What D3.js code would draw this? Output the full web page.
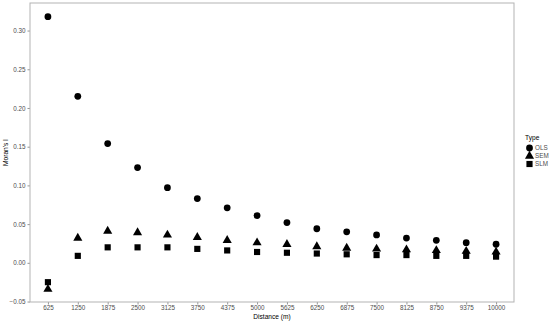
<!DOCTYPE html>
<html>
<head>
<meta charset="utf-8">
<script src="https://d3js.org/d3.v7.min.js"></script>
<style>
  body { margin: 0; background: #fff; }
  text { font-family: "Liberation Sans", Arial, sans-serif; }
</style>
</head>
<body>
<div id="chart"></div>
<script>
  const distances = ["625", "1250", "1875", "2500", "3125", "3750", "4375", "5000",
                     "5625", "6250", "6875", "7500", "8125", "8750", "9375", "10000"];
  const olsValues = [0.318, 0.215, 0.154, 0.123, 0.097, 0.083, 0.071, 0.061,
                     0.052, 0.044, 0.040, 0.036, 0.032, 0.029, 0.026, 0.024];
  const semValues = [-0.034, 0.032, 0.041, 0.039, 0.036, 0.033, 0.029, 0.026,
                     0.024, 0.021, 0.019, 0.018, 0.017, 0.016, 0.015, 0.014];
  const slmValues = [-0.025, 0.009, 0.020, 0.020, 0.020, 0.018, 0.016, 0.014,
                     0.013, 0.012, 0.011, 0.010, 0.010, 0.009, 0.009, 0.008];
  const types = ["OLS", "SEM", "SLM"];
  const yTicks = [-0.05, 0.00, 0.05, 0.10, 0.15, 0.20, 0.25, 0.30];

  const width = 550, height = 321;
  const margin = {left: 30, top: 3, bottom: 19};
  const panelRight = 514;

  const svg = d3.select("#chart").append("svg")
      .attr("width", width)
      .attr("height", height);

  const x = d3.scalePoint()
      .domain(distances)
      .range([margin.left, panelRight])
      .padding(0.6);

  const y = d3.scaleLinear()
      .domain([-0.0506, 0.3356])
      .range([height - margin.bottom, margin.top]);

  const symbols = {
    OLS: d3.symbol().type(d3.symbolCircle).size(36),
    SEM: d3.symbol().type(d3.symbolTriangle).size(36),
    SLM: d3.symbol().type(d3.symbolSquare).size(38)
  };

  const series = [
    {type: "OLS", values: olsValues},
    {type: "SEM", values: semValues},
    {type: "SLM", values: slmValues}
  ];

  // axes
  const xAxis = svg.append("g")
      .attr("transform", `translate(0,${height - margin.bottom})`)
      .call(d3.axisBottom(x).tickSize(2.5).tickPadding(1.5));
  const yAxis = svg.append("g")
      .attr("transform", `translate(${margin.left},0)`)
      .call(d3.axisLeft(y).tickValues(yTicks).tickFormat(d3.format(".2f")).tickSize(2.5).tickPadding(2));

  [xAxis, yAxis].forEach(g => {
    g.select(".domain").remove();
    g.selectAll(".tick line").attr("stroke", "#4d4d4d").attr("stroke-width", 0.6);
    g.selectAll(".tick text").attr("fill", "#4d4d4d").attr("font-size", 6.3)
      .attr("font-family", "Liberation Sans, Arial, sans-serif");
  });

  // panel border
  svg.append("rect")
      .attr("x", margin.left)
      .attr("y", margin.top)
      .attr("width", panelRight - margin.left)
      .attr("height", height - margin.bottom - margin.top)
      .attr("fill", "none")
      .attr("stroke", "#b3b3b3")
      .attr("stroke-width", 1);

  // points
  series.forEach(s => {
    svg.append("g").selectAll("path")
      .data(s.values)
      .join("path")
      .attr("d", symbols[s.type])
      .attr("transform", (d, i) => `translate(${x(distances[i])},${y(d)})`)
      .attr("fill", "#000");
  });

  // axis titles
  svg.append("text")
      .attr("x", (margin.left + panelRight) / 2)
      .attr("y", 319)
      .attr("text-anchor", "middle")
      .attr("font-size", 6.6)
      .attr("fill", "#000")
      .text("Distance (m)");

  svg.append("text")
      .attr("transform", `translate(8,${(margin.top + height - margin.bottom) / 2}) rotate(-90)`)
      .attr("text-anchor", "middle")
      .attr("font-size", 6.6)
      .attr("fill", "#000")
      .text("Moran's I");

  // legend
  const legend = svg.append("g").attr("transform", "translate(525,140)");
  legend.append("text")
      .attr("x", 0)
      .attr("y", 0)
      .attr("font-size", 6.6)
      .attr("fill", "#000")
      .text("Type");
  types.forEach((t, i) => {
    const row = legend.append("g").attr("transform", `translate(0,${8 + i * 8})`);
    row.append("path")
      .attr("d", symbols[t])
      .attr("transform", "translate(4.5,0)")
      .attr("fill", "#000");
    row.append("text")
      .attr("x", 10)
      .attr("y", 2.3)
      .attr("font-size", 6.3)
      .attr("fill", "#4d4d4d")
      .text(t);
  });
</script>
</body>
</html>
